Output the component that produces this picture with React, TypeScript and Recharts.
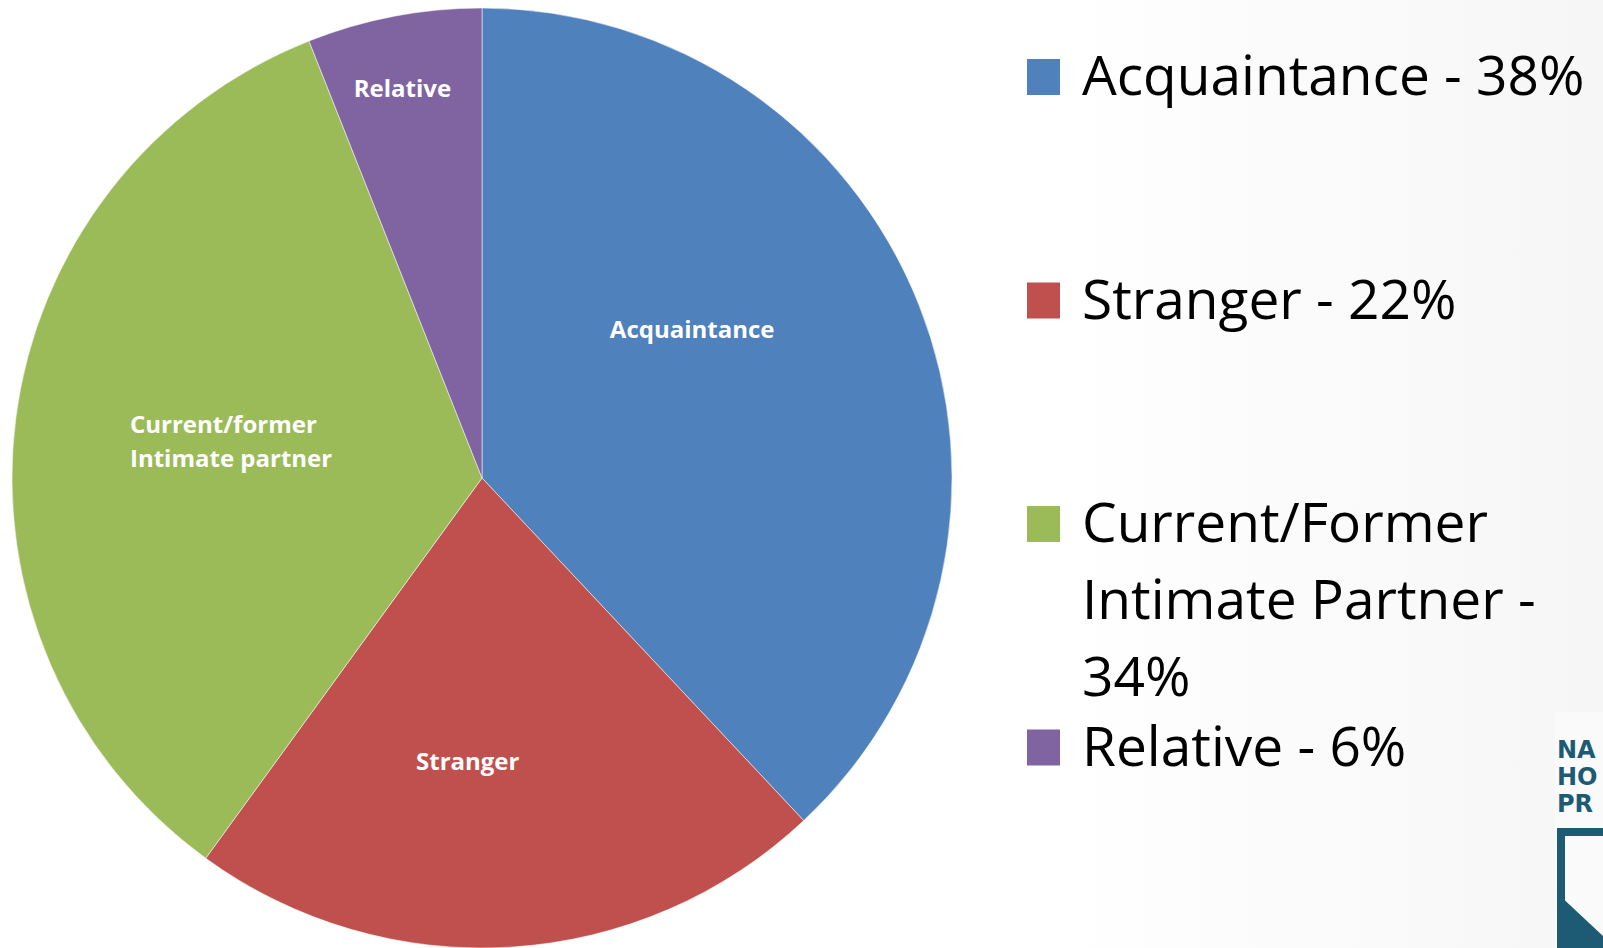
import { PieChart, Pie, Cell, Legend } from 'recharts';

const categories = ['Acquaintance', 'Stranger', 'Current/Former Intimate Partner', 'Relative'];
const sliceLabels = ['Acquaintance', 'Stranger', 'Current/former\nIntimate partner', 'Relative'];
const shares = [38, 22, 34, 6];

const COLORS = ['#4F81BD', '#C0504D', '#9BBB59', '#8064A2'];

// where excel's "best fit" put each label, relative to the slice middle
const LABEL_RADIUS = [0.55, 0.6, 0.54, 0.85];
const LABEL_ANGLE_SHIFT = [14, -6.5, -1.4, 0.7];

const data = categories.map((name, i) => ({ name, value: shares[i] }));

const W = 1603;
const H = 948;
const LEGEND_LEFT = 1000;

let ctx: CanvasRenderingContext2D | null = null;
const measure = (s: string, font = '55px "Open Sans"') => {
  if (!ctx) ctx = document.createElement('canvas').getContext('2d');
  if (!ctx) return s.length * 28;
  ctx.font = font;
  return ctx.measureText(s).width;
};

const wrap = (text: string, maxWidth: number) => {
  const words = text.split(' ');
  const lines: string[] = [];
  let cur = '';
  words.forEach((w) => {
    const next = cur ? cur + ' ' + w : w;
    if (cur && measure(next) > maxWidth) {
      lines.push(cur);
      cur = w;
    } else {
      cur = next;
    }
  });
  if (cur) lines.push(cur);
  return lines;
};

const renderSliceLabel = (props: any) => {
  const { cx, cy, midAngle, outerRadius, index } = props;
  const a = ((midAngle + LABEL_ANGLE_SHIFT[index]) * Math.PI) / 180;
  const r = outerRadius * LABEL_RADIUS[index];
  const x = cx + r * Math.cos(a);
  const y = cy - r * Math.sin(a);
  const lines = sliceLabels[index].split('\n');
  const lh = 34;
  // multi-line labels are left aligned inside their block, like excel does
  const blockW = Math.max(...lines.map((l) => measure(l, '700 24px "Open Sans"')));
  const multi = lines.length > 1;
  const tx = multi ? x - blockW / 2 : x;
  return (
    <text
      x={tx}
      y={y - ((lines.length - 1) * lh) / 2}
      textAnchor={multi ? 'start' : 'middle'}
      dominantBaseline="central"
      fill="#fff"
      fontFamily="'Open Sans', sans-serif"
      fontWeight={700}
      fontSize={24}
    >
      {lines.map((l, k) => (
        <tspan key={k} x={tx} dy={k === 0 ? 0 : lh}>
          {l}
        </tspan>
      ))}
    </text>
  );
};

const LegendBlock = () => {
  return (
    <svg width={W - LEGEND_LEFT} height={H} style={{ overflow: 'visible', display: 'block' }}>
      {categories.map((name, i) => {
        const base = 95 + i * 223.5;
        const lines = wrap(`${name} - ${shares[i]}%`, 515);
        return (
          <g key={name}>
            <rect x={27} y={base - 36} width={33} height={36} fill={COLORS[i]} />
            <text fontFamily="'Open Sans', sans-serif" fontSize={55} fill="#000">
              {lines.map((l, k) => (
                <tspan key={k} x={82} y={base + k * 77}>
                  {l}
                </tspan>
              ))}
            </text>
          </g>
        );
      })}
    </svg>
  );
};

export default function App() {
  return (
    <div
      style={{
        position: 'absolute',
        left: 0,
        top: 0,
        width: W,
        height: H,
        overflow: 'hidden',
        background: 'linear-gradient(90deg, #ffffff 0%, #ffffff 66%, #f6f6f6 100%)',
      }}
    >
      <svg width={W} height={H} style={{ position: 'absolute', left: 0, top: 0 }}>
        <rect x={1555} y={712} width={48} height={236} fill="#fafafa" />
        <g fill="#1d5b75" fontFamily="'DejaVu Sans', sans-serif" fontWeight={700} fontSize={24}>
          <text x={1557} y={758}>NA</text>
          <text x={1557} y={785}>HO</text>
          <text x={1557} y={812}>PR</text>
        </g>
        <rect x={1561} y={832} width={60} height={130} fill="none" stroke="#1d5b75" strokeWidth={8} />
        <polygon points="1557,893 1603,936 1603,948 1557,948" fill="#1d5b75" />
      </svg>
      <PieChart width={W} height={H} margin={{ top: 0, right: 0, bottom: 0, left: 0 }} style={{ position: 'absolute', left: 0, top: 0 }}>
        <Pie
          data={data}
          dataKey="value"
          nameKey="name"
          cx={482}
          cy={478}
          outerRadius={470}
          startAngle={90}
          endAngle={-270}
          stroke="#ffffff"
          strokeOpacity={0.5}
          strokeWidth={1}
          label={renderSliceLabel}
          labelLine={false}
          isAnimationActive={false}
        >
          {data.map((d, i) => (
            <Cell key={d.name} fill={COLORS[i]} />
          ))}
        </Pie>
        <Legend
          layout="vertical"
          align="right"
          verticalAlign="top"
          content={() => <LegendBlock />}
          wrapperStyle={{ position: 'absolute', left: LEGEND_LEFT, top: 0, width: W - LEGEND_LEFT, height: H }}
        />
      </PieChart>
    </div>
  );
}
